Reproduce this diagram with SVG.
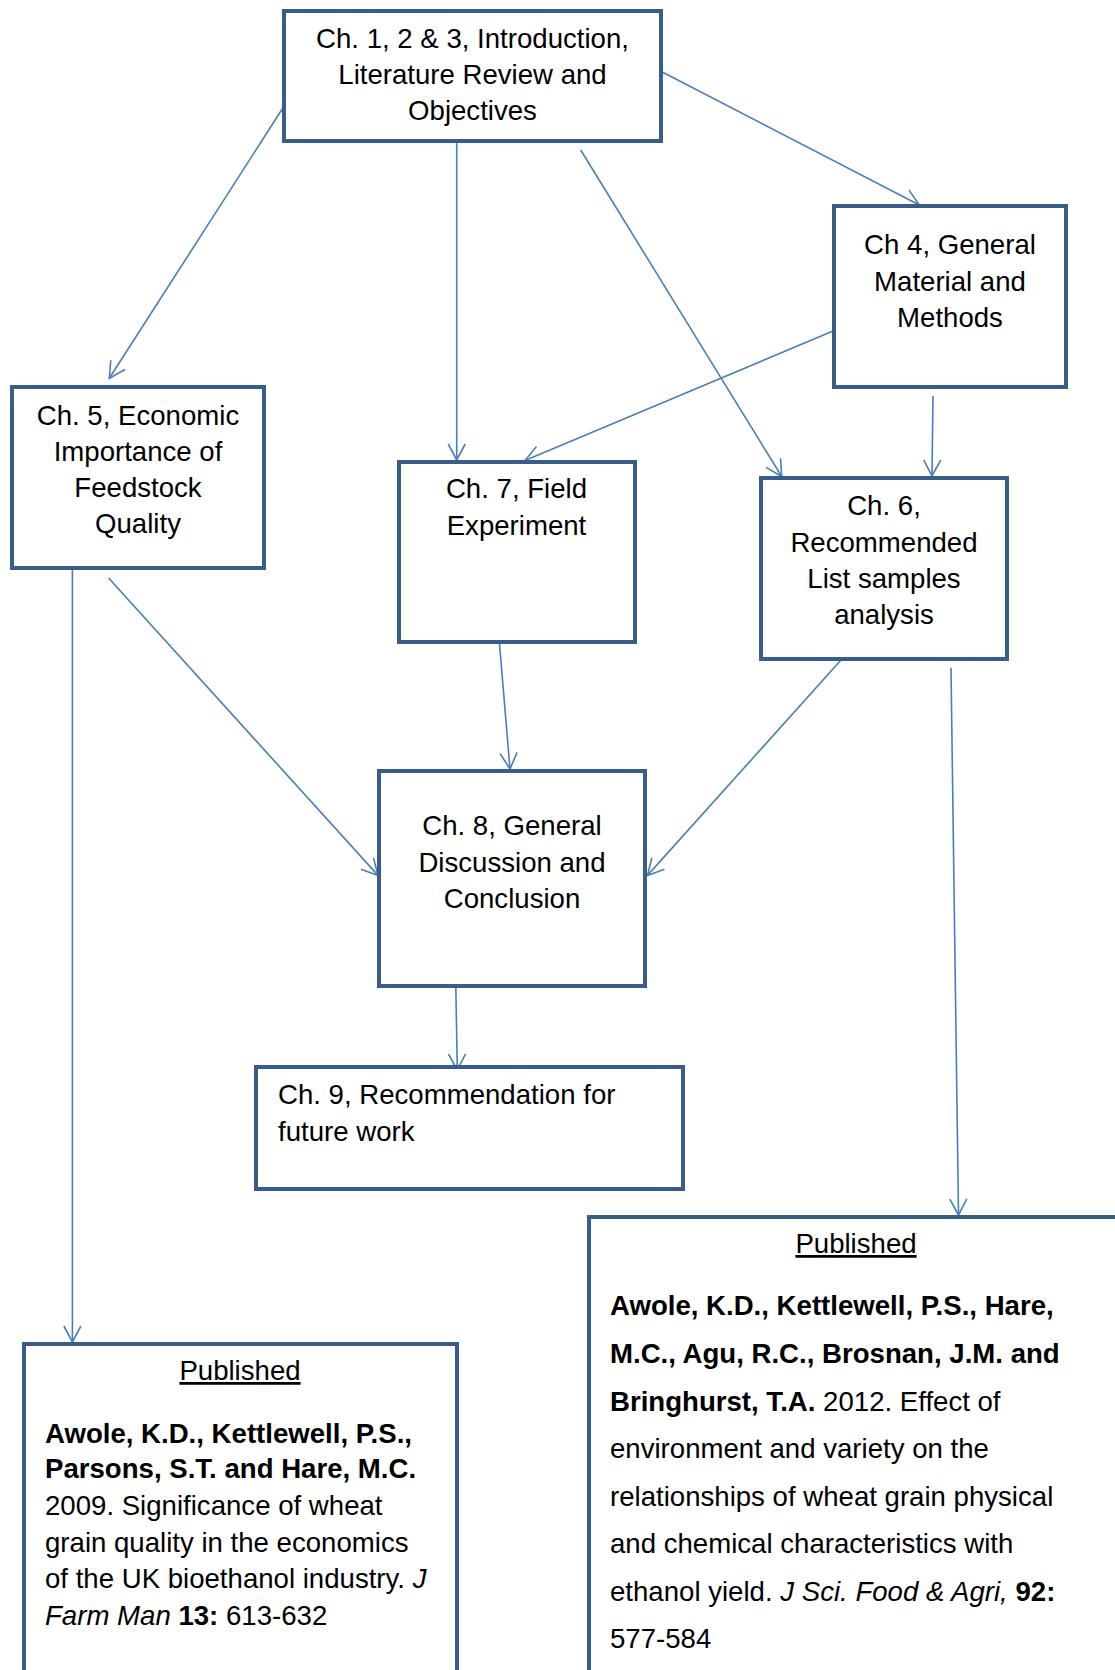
<svg xmlns="http://www.w3.org/2000/svg" width="1115" height="1670" viewBox="0 0 1115 1670">
<style>
.box{fill:#ffffff;stroke:#385D8A;stroke-width:4}
.t{font-family:"Liberation Sans",Arial,sans-serif;font-size:27.6px;fill:#000000}
.c{text-anchor:middle}
.b{font-weight:bold}
.i{font-style:italic}
.u{text-decoration:underline}
.conn line{stroke:#4A7EBB;stroke-width:1.6;fill:none;marker-end:url(#arr)}
</style>
<defs>
<marker id="arr" markerUnits="userSpaceOnUse" markerWidth="40" markerHeight="40" viewBox="-20 -20 40 40" refX="0" refY="0" orient="auto">
<path d="M-16,-8.5 L0,0 L-16,8.5" fill="none" stroke="#4A7EBB" stroke-width="1.6"/>
</marker>
</defs>
<rect width="1115" height="1670" fill="#ffffff"/>

<g id="connectors" class="conn">
<line x1="282.7" y1="108.3" x2="109.3" y2="378.3"/>
<line x1="456.7" y1="141.7" x2="456.7" y2="460"/>
<line x1="580.7" y1="150" x2="781.7" y2="476.5"/>
<line x1="661.7" y1="71.7" x2="919.3" y2="205"/>
<line x1="833" y1="331" x2="525" y2="460.5"/>
<line x1="933" y1="396" x2="932" y2="476"/>
<line x1="72.4" y1="569" x2="72.4" y2="1342"/>
<line x1="108.6" y1="578" x2="378" y2="875.4"/>
<line x1="499.5" y1="644" x2="510" y2="769"/>
<line x1="841" y1="660" x2="647.5" y2="875.4"/>
<line x1="951" y1="667.7" x2="958.5" y2="1215"/>
<line x1="455.8" y1="986" x2="457.3" y2="1070"/>
</g>

<g id="n_intro">
<rect class="box" x="284" y="11" width="377" height="130"/>
<text class="t c" x="472.5" y="48">Ch. 1, 2 &amp; 3, Introduction,</text>
<text class="t c" x="472.5" y="84">Literature Review and</text>
<text class="t c" x="472.5" y="120">Objectives</text>
</g>

<g id="n_ch4">
<rect class="box" x="834" y="206" width="232" height="181"/>
<text class="t c" x="950" y="254">Ch 4, General</text>
<text class="t c" x="950" y="291">Material and</text>
<text class="t c" x="950" y="327">Methods</text>
</g>

<g id="n_ch5">
<rect class="box" x="12" y="387" width="252" height="181"/>
<text class="t c" x="138" y="425">Ch. 5, Economic</text>
<text class="t c" x="138" y="461">Importance of</text>
<text class="t c" x="138" y="497">Feedstock</text>
<text class="t c" x="138" y="533">Quality</text>
</g>

<g id="n_ch7">
<rect class="box" x="399" y="462" width="236" height="180"/>
<text class="t c" x="516.5" y="498">Ch. 7, Field</text>
<text class="t c" x="516.5" y="535">Experiment</text>
</g>

<g id="n_ch6">
<rect class="box" x="761" y="478" width="246" height="181"/>
<text class="t c" x="884" y="515">Ch. 6,</text>
<text class="t c" x="884" y="551.5">Recommended</text>
<text class="t c" x="884" y="588">List samples</text>
<text class="t c" x="884" y="624">analysis</text>
</g>

<g id="n_ch8">
<rect class="box" x="379" y="771" width="266" height="215"/>
<text class="t c" x="512" y="835">Ch. 8, General</text>
<text class="t c" x="512" y="871.5">Discussion and</text>
<text class="t c" x="512" y="908">Conclusion</text>
</g>

<g id="n_ch9">
<rect class="box" x="256" y="1067" width="427" height="122"/>
<text class="t" x="278" y="1104">Ch. 9, Recommendation for</text>
<text class="t" x="278" y="1140.5">future work</text>
</g>

<g id="n_pub_right">
<rect class="box" x="589" y="1217" width="600" height="600"/>
<text class="t c u" x="856" y="1253">Published</text>
<text class="t b" x="610" y="1315">Awole, K.D., Kettlewell, P.S., Hare,</text>
<text class="t b" x="610" y="1363">M.C., Agu, R.C., Brosnan, J.M. and</text>
<text class="t" x="610" y="1411"><tspan class="b">Bringhurst, T.A.</tspan> 2012. Effect of</text>
<text class="t" x="610" y="1458">environment and variety on the</text>
<text class="t" x="610" y="1506">relationships of wheat grain physical</text>
<text class="t" x="610" y="1553">and chemical characteristics with</text>
<text class="t" x="610" y="1601">ethanol yield. <tspan class="i">J Sci. Food &amp; Agri,</tspan> <tspan class="b">92:</tspan></text>
<text class="t" x="610" y="1648">577-584</text>
</g>

<g id="n_pub_left">
<rect class="box" x="24" y="1344" width="433" height="400"/>
<text class="t c u" x="240" y="1380">Published</text>
<text class="t b" x="45" y="1443">Awole, K.D., Kettlewell, P.S.,</text>
<text class="t b" x="45" y="1478">Parsons, S.T. and Hare, M.C.</text>
<text class="t" x="45" y="1515">2009. Significance of wheat</text>
<text class="t" x="45" y="1552">grain quality in the economics</text>
<text class="t" x="45" y="1588">of the UK bioethanol industry. <tspan class="i">J</tspan></text>
<text class="t" x="45" y="1625"><tspan class="i">Farm Man</tspan> <tspan class="b">13:</tspan> 613-632</text>
</g>
</svg>
